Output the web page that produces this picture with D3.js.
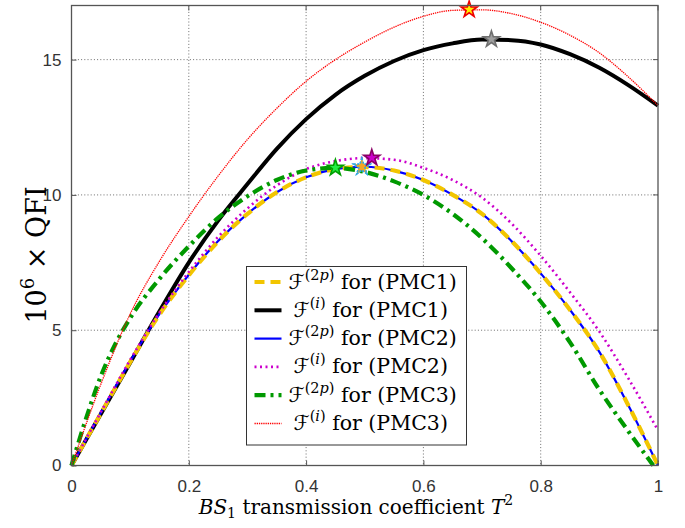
<!DOCTYPE html>
<html lang="en">
<head>
    <meta charset="UTF-8">
    <title>QFI vs transmission</title>
    <script src="https://d3js.org/d3.v7.min.js"></script>
    <style>
        body { margin: 0; background: #fff; }
    </style>
</head>
<body>
<svg width="685" height="528"></svg>
<script>
    // data (T^2 -> 10^6 x QFI)
    var tGrid = [0, 0.05, 0.1, 0.15, 0.2, 0.25, 0.3, 0.35, 0.4, 0.45, 0.5, 0.55, 0.6, 0.65, 0.7, 0.75, 0.8, 0.85, 0.9, 0.95, 1];
    var vYellow = [0, 1.92, 3.82, 5.58, 7.03, 8.28, 9.3, 10.1, 10.65, 10.95, 11.03, 10.9, 10.55, 10.0, 9.3, 8.3, 7.1, 5.75, 4.2, 2.2, 0];
    var vBlack = [0, 1.9, 3.8, 5.7, 7.5, 9.05, 10.4, 11.7, 12.8, 13.7, 14.4, 14.95, 15.35, 15.6, 15.74, 15.72, 15.56, 15.2, 14.7, 14.05, 13.3];
    var vBlue = [0, 1.95, 3.85, 5.6, 7.05, 8.3, 9.3, 10.1, 10.65, 10.95, 11.04, 10.9, 10.55, 10.0, 9.3, 8.3, 7.1, 5.75, 4.2, 2.2, 0];
    var vMagenta = [0, 1.97, 3.9, 5.65, 7.15, 8.45, 9.5, 10.35, 10.95, 11.25, 11.36, 11.3, 11.0, 10.55, 9.9, 8.95, 7.75, 6.4, 4.95, 3.2, 1.3];
    var vRed = [0, 3.0, 5.6, 7.55, 9.2, 10.7, 12.05, 13.2, 14.2, 15.0, 15.65, 16.2, 16.6, 16.82, 16.84, 16.7, 16.38, 15.9, 15.25, 14.35, 13.3];
    // green reaches zero just before T^2 = 1
    var tGreen = [0, 0.025, 0.05, 0.075, 0.1, 0.15, 0.2, 0.25, 0.3, 0.35, 0.4, 0.45, 0.5, 0.55, 0.6, 0.65, 0.7, 0.75, 0.8, 0.85, 0.9, 0.95, 0.992];
    var vGreen = [0, 1.75, 3.3, 4.5, 5.45, 6.9, 8.1, 9.15, 9.95, 10.55, 10.9, 11.0, 10.85, 10.5, 10.0, 9.3, 8.4, 7.3, 6.06, 4.55, 2.8, 1.25, 0];

    // maxima markers
    var peakT = [0.495, 0.716, 0.495, 0.512, 0.45, 0.678];
    var peakV = [11.03, 15.75, 11.04, 11.37, 11.0, 16.85];

    var xTicks = [0, 0.2, 0.4, 0.6, 0.8, 1];
    var yTicks = [0, 5, 10, 15];
    var pmcNames = ["(PMC1)", "(PMC1)", "(PMC2)", "(PMC2)", "(PMC3)", "(PMC3)"];
    var supNames = ["2p", "i", "2p", "i", "2p", "i"];

    var series = [
        {t: tGrid, v: vYellow, color: "#f2c500", width: 4.2, dash: "10,6", star: "#f5a623", starStroke: "#33a8e0"},
        {t: tGrid, v: vBlack, color: "#000000", width: 4, dash: null, star: "#a0a0a0", starStroke: "#707070"},
        {t: tGrid, v: vBlue, color: "#0000ff", width: 2.2, dash: null, star: "#f5a623", starStroke: "#33a8e0"},
        {t: tGrid, v: vMagenta, color: "#cc00cc", width: 2.6, dash: "2,3.5", star: "#cc00cc", starStroke: "#8a0066"},
        {t: tGreen, v: vGreen, color: "#009900", width: 4.2, dash: "11,5,3,5", star: "#22ee44", starStroke: "#00a000"},
        {t: tGrid, v: vRed, color: "#ff0000", width: 1.3, dash: "1.3,0.9", star: "#ffee00", starStroke: "#ee0000"}
    ];

    var svg = d3.select("svg");
    var padL = 71.5, padR = 658, padT = 5.5, padB = 465.5;

    var x = d3.scaleLinear().domain([0, 1]).range([padL, padR]);
    var y = d3.scaleLinear().domain([0, 17]).range([padB, padT]);

    // grid
    var grid = svg.append("g").attr("stroke", "#555").attr("stroke-width", 1)
        .attr("stroke-dasharray", "1,2.2").attr("opacity", 0.85);
    grid.selectAll(".gx").data(xTicks.slice(1, -1)).join("line")
        .attr("x1", d => x(d)).attr("x2", d => x(d)).attr("y1", padT).attr("y2", padB);
    grid.selectAll(".gy").data(yTicks.slice(1)).join("line")
        .attr("x1", padL).attr("x2", padR).attr("y1", d => y(d)).attr("y2", d => y(d));

    // axes
    var xAxis = d3.axisBottom(x).tickValues(xTicks).tickSizeInner(-5).tickSizeOuter(0).tickPadding(14)
        .tickFormat(d => d === 0 || d === 1 ? d : d3.format(".1f")(d));
    var yAxis = d3.axisLeft(y).tickValues(yTicks).tickSizeInner(-5).tickSizeOuter(0).tickPadding(10);

    var gx = svg.append("g").attr("transform", "translate(0," + padB + ")").call(xAxis);
    var gy = svg.append("g").attr("transform", "translate(" + padL + ",0)").call(yAxis);
    [gx, gy].forEach(function(g) {
        g.select(".domain").remove();
        g.selectAll("line").attr("stroke", "#555");
        g.selectAll("text").attr("font-family", "Liberation Sans, Arial, sans-serif")
            .attr("font-size", 17).attr("fill", "#333");
    });
    // top / right ticks
    svg.append("g").selectAll("line").data(xTicks).join("line")
        .attr("x1", d => x(d)).attr("x2", d => x(d)).attr("y1", padT).attr("y2", padT + 5).attr("stroke", "#555");
    svg.append("g").selectAll("line").data(yTicks).join("line")
        .attr("x1", padR).attr("x2", padR - 5).attr("y1", d => y(d)).attr("y2", d => y(d)).attr("stroke", "#555");

    // curves
    var line = d3.line().x(d => x(d[0])).y(d => y(d[1])).curve(d3.curveMonotoneX);
    var drawOrder = [1, 2, 0, 3, 4, 5];
    var curves = svg.append("g").attr("fill", "none").attr("stroke-linejoin", "round");
    drawOrder.forEach(function(i) {
        var s = series[i];
        curves.append("path")
            .datum(s.t.map((t, k) => [t, s.v[k]]))
            .attr("d", line)
            .attr("stroke", s.color)
            .attr("stroke-width", s.width)
            .attr("stroke-dasharray", s.dash);
    });

    // stars at maxima
    var star = d3.symbol().type(d3.symbolStar).size(80);
    svg.append("g").selectAll("path").data(d3.range(series.length)).join("path")
        .attr("d", star)
        .attr("transform", i => "translate(" + x(peakT[i]) + "," + y(peakV[i]) + ")")
        .attr("fill", i => series[i].star)
        .attr("stroke", i => series[i].starStroke)
        .attr("stroke-width", 1.6)
        .attr("stroke-dasharray", i => i === 0 || i === 2 ? "2,1.5" : null);

    // box
    svg.append("rect").attr("x", padL).attr("y", padT).attr("width", padR - padL).attr("height", padB - padT)
        .attr("fill", "none").attr("stroke", "#555").attr("stroke-width", 1.3);

    // legend
    var serif = "DejaVu Serif, Liberation Serif, serif";
    var lg = svg.append("g").attr("transform", "translate(246.5,266.5)");
    lg.append("rect").attr("width", 220).attr("height", 178.5).attr("fill", "#fff")
        .attr("stroke", "#333").attr("stroke-width", 1);
    series.forEach(function(s, i) {
        var yy = 15.5 + i * 28.3;
        lg.append("line").attr("x1", 8).attr("x2", 35).attr("y1", yy).attr("y2", yy)
            .attr("stroke", s.color).attr("stroke-width", s.width)
            .attr("stroke-dasharray", s.dash);
        var tx = lg.append("text").attr("x", supNames[i] === "i" ? 47 : 42).attr("y", yy + 6.5)
            .attr("font-family", serif).attr("font-size", 20.5).attr("fill", "#000");
        tx.append("tspan").attr("font-family", "DejaVu Sans, sans-serif").attr("font-size", 20.5).text("ℱ");
        var sup = tx.append("tspan").attr("dy", -9).attr("font-size", 14.5);
        sup.append("tspan").text("(");
        if (supNames[i] === "2p") {
            sup.append("tspan").text("2");
            sup.append("tspan").attr("font-style", "italic").text("p");
        } else {
            sup.append("tspan").attr("font-style", "italic").text("i");
        }
        sup.append("tspan").text(")");
        tx.append("tspan").attr("dy", 9).text("\u00a0for " + pmcNames[i]);
    });

    // axis labels
    var xl = svg.append("text").attr("x", 356).attr("y", 514).attr("text-anchor", "middle")
        .attr("font-family", serif).attr("font-size", 20).attr("fill", "#000");
    xl.append("tspan").attr("font-style", "italic").text("BS");
    xl.append("tspan").attr("font-size", 14).attr("dy", 4).text("1");
    xl.append("tspan").attr("dy", -4).text(" transmission coefficient ");
    xl.append("tspan").attr("font-style", "italic").text("T");
    xl.append("tspan").attr("font-size", 14).attr("dy", -9).text("2");

    var yl = svg.append("text").attr("transform", "translate(46,255) rotate(-90)").attr("text-anchor", "middle")
        .attr("font-family", serif).attr("font-size", 27).attr("fill", "#000");
    yl.append("tspan").text("10");
    yl.append("tspan").attr("font-size", 18).attr("dy", -12).text("6");
    yl.append("tspan").attr("dy", 12).text(" × QFI");
</script>
</body>
</html>
